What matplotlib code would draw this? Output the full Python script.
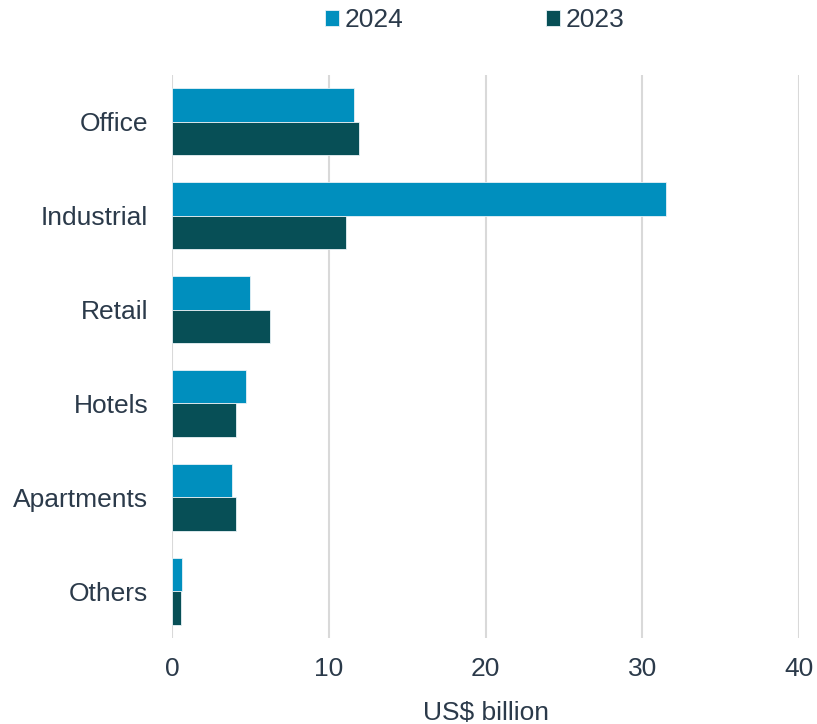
import matplotlib.pyplot as plt
import numpy as np

categories = ["Office", "Industrial", "Retail", "Hotels", "Apartments", "Others"]
values_2024 = [11.6, 31.5, 5.0, 4.75, 3.85, 0.65]
values_2023 = [11.9, 11.1, 6.25, 4.1, 4.1, 0.6]

c2024 = "#008fbe"
c2023 = "#074f56"
text_color = "#2b3a4a"
grid_color = "#d9d9d9"

plt.rcParams["font.family"] = ["Liberation Sans", "DejaVu Sans"]

fig = plt.figure(figsize=(8.17, 7.24), dpi=100)
ax = fig.add_axes([0.2105, 0.1188, 0.7675, 0.7776])

y = np.arange(len(categories))
h = 0.357
ax.barh(y - h / 2, values_2024, height=h, color=c2024, edgecolor="#e8f2f6",
        linewidth=0.6, label="2024", zorder=3)
ax.barh(y + h / 2, values_2023, height=h, color=c2023, edgecolor="#e8f2f6",
        linewidth=0.6, label="2023", zorder=3)

ax.set_ylim(len(categories) - 0.5, -0.5)
ax.set_xlim(0, 40)
ax.set_xticks([0, 10, 20, 30, 40])
ax.set_yticks(y)
ax.set_yticklabels(categories)

ax.xaxis.grid(True, color=grid_color, linewidth=1.5, zorder=0)
ax.yaxis.grid(False)
for s in ax.spines.values():
    s.set_visible(False)
ax.tick_params(axis="both", length=0, labelsize=19, colors=text_color)
ax.tick_params(axis="y", pad=17)
ax.tick_params(axis="x", pad=14)
ax.set_xlabel("US$ billion", fontsize=19, color=text_color, labelpad=14)

fig.legend(loc="center", bbox_to_anchor=(0.581, 0.972), ncol=2, frameon=False,
           fontsize=19, labelcolor=text_color, handlelength=0.55, handleheight=0.55,
           handletextpad=0.2, columnspacing=5.4)

fig.savefig("out.png", dpi=100)
